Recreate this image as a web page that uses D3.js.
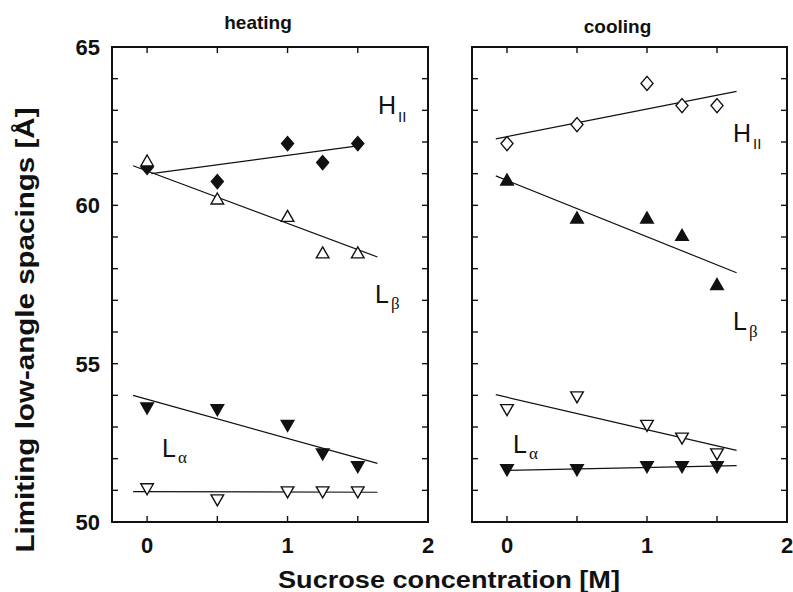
<!DOCTYPE html>
<html>
<head>
<meta charset="utf-8">
<script src="https://cdn.jsdelivr.net/npm/d3@7"></script>
<style>
  html, body { margin: 0; padding: 0; background: #fff; }
  svg { display: block; }
  .bold { font-family: Arial, "Liberation Sans", Helvetica, sans-serif; font-weight: bold; fill: #111; }
  .lab { font-family: "Liberation Sans Narrow", "Arial Narrow", Arial, sans-serif; fill: #111; }
  .greek { font-family: "Liberation Serif", "DejaVu Serif", serif; fill: #111; }
</style>
</head>
<body>
<svg id="chart" width="793" height="592"></svg>
<script>
// ---------------- data ----------------
const sucrose = [0, 0.5, 1, 1.25, 1.5];
const xTickValues = [0, 0.5, 1, 1.5, 2];
const xTickLabels = ["0", "1", "2"];
const yTickLabels = [50, 55, 60, 65];
const panelTitles = ["heating", "cooling"];

// heating
const heatH2   = [61.2, 60.75, 61.95, 61.35, 61.95];   // filled diamonds
const heatLb   = [61.4, 60.2, 59.65, 58.5, 58.5];      // open up-triangles
const heatLaTop= [53.6, 53.55, 53.05, 52.15, 51.75];   // filled down-triangles
const heatLaBot= [51.05, 50.7, 50.95, 50.95, 50.95];   // open down-triangles
// cooling
const coolH2   = [61.95, 62.55, 63.85, 63.15, 63.15];  // open diamonds
const coolLb   = [60.8, 59.6, 59.6, 59.05, 57.5];      // filled up-triangles
const coolLaTop= [53.55, 53.95, 53.05, 52.65, 52.15];  // open down-triangles
const coolLaBot= [51.65, 51.65, 51.75, 51.75, 51.75];  // filled down-triangles

// fitted lines: [x0, y0, x1, y1]
const heatH2Fit    = [0.03, 61.0, 1.5, 61.88];
const heatLbFit    = [-0.1, 61.25, 1.64, 58.37];
const heatLaTopFit = [-0.1, 54.0, 1.64, 51.85];
const heatLaBotFit = [-0.1, 50.96, 1.64, 50.94];
const coolH2Fit    = [-0.08, 62.1, 1.64, 63.6];
const coolLbFit    = [-0.08, 60.93, 1.64, 57.87];
const coolLaTopFit = [-0.08, 54.02, 1.64, 52.26];
const coolLaBotFit = [0.0, 51.63, 1.64, 51.78];

// ---------------- drawing ----------------
const svg = d3.select("#chart");
const ink = "#111";

const panels = [
  { left: 112, right: 428, title: panelTitles[0], titleY: 29,
    series: [
      { vals: heatH2, shape: "diamond", fill: true, fit: heatH2Fit },
      { vals: heatLb, shape: "up", fill: false, fit: heatLbFit },
      { vals: heatLaTop, shape: "down", fill: true, fit: heatLaTopFit },
      { vals: heatLaBot, shape: "down", fill: false, fit: heatLaBotFit }
    ],
    labels: [
      { main: "H", sub: "II", x: 378, y: 114, subDx: 2, subDy: 8, greek: false },
      { main: "L", sub: "β", x: 375, y: 303, subDx: 2, subDy: 6, greek: true },
      { main: "L", sub: "α", x: 162, y: 457, subDx: 2, subDy: 6, greek: true }
    ]
  },
  { left: 472, right: 787, title: panelTitles[1], titleY: 33,
    series: [
      { vals: coolH2, shape: "diamond", fill: false, fit: coolH2Fit },
      { vals: coolLb, shape: "up", fill: true, fit: coolLbFit },
      { vals: coolLaTop, shape: "down", fill: false, fit: coolLaTopFit },
      { vals: coolLaBot, shape: "down", fill: true, fit: coolLaBotFit }
    ],
    labels: [
      { main: "H", sub: "II", x: 733, y: 142, subDx: 2, subDy: 7, greek: false },
      { main: "L", sub: "β", x: 733, y: 330, subDx: 2, subDy: 7, greek: true },
      { main: "L", sub: "α", x: 513, y: 453, subDx: 2, subDy: 6, greek: true }
    ]
  }
];

const yTop = 47, yBottom = 522;
const y = d3.scaleLinear().domain([50, 65]).range([yBottom, yTop]);

function markerPath(shape) {
  if (shape === "diamond") return "M0,-7L6,0L0,7L-6,0Z";
  if (shape === "up") return "M0,-6L6.3,5L-6.3,5Z";
  return "M0,6L6.3,-5L-6.3,-5Z";
}

panels.forEach(p => {
  const x = d3.scaleLinear().domain([-0.25, 2]).range([p.left, p.right]);
  const g = svg.append("g");

  // frame
  g.append("rect").attr("x", p.left).attr("y", yTop)
    .attr("width", p.right - p.left).attr("height", yBottom - yTop)
    .attr("fill", "none").attr("stroke", ink).attr("stroke-width", 2);

  // y ticks (inner, both sides)
  const yTicks = d3.range(51, 65, 1);
  g.selectAll(".ytl").data(yTicks).join("line")
    .attr("x1", p.left).attr("x2", p.left + 6)
    .attr("y1", d => y(d)).attr("y2", d => y(d))
    .attr("stroke", ink).attr("stroke-width", 1.4);
  g.selectAll(".ytr").data(yTicks).join("line")
    .attr("x1", p.right).attr("x2", p.right - 6)
    .attr("y1", d => y(d)).attr("y2", d => y(d))
    .attr("stroke", ink).attr("stroke-width", 1.4);

  // x ticks (inner, top & bottom)
  const xt = xTickValues.filter(v => v < 2);
  g.selectAll(".xtb").data(xt).join("line")
    .attr("x1", d => x(d)).attr("x2", d => x(d))
    .attr("y1", yBottom).attr("y2", yBottom - 6)
    .attr("stroke", ink).attr("stroke-width", 1.4);
  g.selectAll(".xtt").data(xt).join("line")
    .attr("x1", d => x(d)).attr("x2", d => x(d))
    .attr("y1", yTop).attr("y2", yTop + 6)
    .attr("stroke", ink).attr("stroke-width", 1.4);

  // x tick labels
  g.selectAll(".xlab").data(xTickLabels).join("text")
    .attr("class", "bold")
    .attr("x", d => x(+d)).attr("y", 553)
    .attr("text-anchor", "middle")
    .style("font-size", "22px")
    .text(d => d);

  // title
  g.append("text").attr("class", "bold")
    .attr("x", (p.left + p.right) / 2 - 12).attr("y", p.titleY)
    .attr("text-anchor", "middle").style("font-size", "19px")
    .text(p.title);

  // fit lines
  p.series.forEach(s => {
    g.append("line")
      .attr("x1", x(s.fit[0])).attr("y1", y(s.fit[1]))
      .attr("x2", x(s.fit[2])).attr("y2", y(s.fit[3]))
      .attr("stroke", ink).attr("stroke-width", 1.2);
  });

  // markers
  p.series.forEach(s => {
    g.selectAll(null).data(sucrose.map((c, i) => [c, s.vals[i]])).join("path")
      .attr("transform", d => `translate(${x(d[0])},${y(d[1])})`)
      .attr("d", markerPath(s.shape))
      .attr("fill", s.fill ? ink : "#fff")
      .attr("stroke", ink).attr("stroke-width", 1.4)
      .attr("stroke-linejoin", "miter");
  });

  // phase labels
  p.labels.forEach(l => {
    const t = g.append("text").attr("x", l.x).attr("y", l.y);
    t.append("tspan").attr("class", "lab").style("font-size", "25px").text(l.main);
    t.append("tspan").attr("class", l.greek ? "greek" : "lab")
      .attr("dx", l.subDx).attr("dy", l.subDy)
      .style("font-size", l.greek ? "17px" : "15px").text(l.sub);
  });
});

// y tick labels (left panel only)
svg.selectAll(".ylab").data(yTickLabels).join("text")
  .attr("class", "bold")
  .attr("x", 100).attr("y", d => y(d) + 8)
  .attr("text-anchor", "end")
  .style("font-size", "22px")
  .text(d => d);

// axis titles
svg.append("text").attr("class", "bold")
  .attr("x", 449).attr("y", 588)
  .attr("text-anchor", "middle")
  .style("font-size", "23px")
  .attr("textLength", 342).attr("lengthAdjust", "spacingAndGlyphs")
  .text("Sucrose concentration [M]");

svg.append("text").attr("class", "bold")
  .attr("transform", "translate(34,330) rotate(-90)")
  .attr("text-anchor", "middle")
  .style("font-size", "26px")
  .attr("textLength", 445).attr("lengthAdjust", "spacingAndGlyphs")
  .text("Limiting low-angle spacings [Å]");
</script>
</body>
</html>
